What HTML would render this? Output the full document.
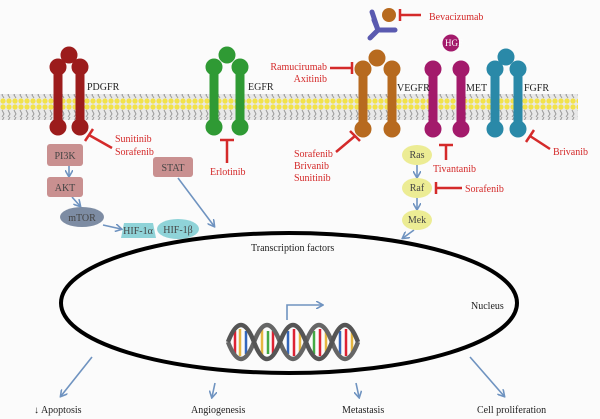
<!DOCTYPE html>
<html><head><meta charset="utf-8"><style>
html,body{margin:0;padding:0;background:#fbfbfb;}
svg{display:block;font-family:"Liberation Serif",serif;}
</style></head><body>
<svg width="600" height="419" viewBox="0 0 600 419" xmlns="http://www.w3.org/2000/svg">
<defs>
<pattern id="lip" width="6" height="26" patternUnits="userSpaceOnUse">
<rect width="6" height="26" fill="#e8e8e8"/>
<circle cx="3" cy="3" r="2.6" fill="#f2e24a"/>
<circle cx="3" cy="23" r="2.6" fill="#f2e24a"/>
<path d="M2 6 L4 10 L2 13 M4 13 L2 17 L4 20" stroke="#9a9a9a" stroke-width="1" fill="none"/>
</pattern>
<marker id="ar" markerWidth="8" markerHeight="8" refX="6" refY="4" orient="auto" markerUnits="userSpaceOnUse"><path d="M0 0 L7 4 L0 8" fill="none" stroke="#6f93c0" stroke-width="1.6"/></marker>
</defs>
<rect x="0" y="94" width="578" height="26" fill="url(#lip)"/>

<g stroke-linecap="round">
<g fill="#9c1c1c" stroke="#9c1c1c">
<line x1="58" y1="67" x2="58" y2="127" stroke-width="9"/><line x1="80" y1="67" x2="80" y2="127" stroke-width="9"/>
<circle cx="58" cy="67" r="8"/><circle cx="80" cy="67" r="8"/><circle cx="69" cy="55" r="8"/><circle cx="58" cy="127" r="8"/><circle cx="80" cy="127" r="8"/></g>
<g fill="#2f9a34" stroke="#2f9a34">
<line x1="214" y1="67" x2="214" y2="127" stroke-width="9"/><line x1="240" y1="67" x2="240" y2="127" stroke-width="9"/>
<circle cx="214" cy="67" r="8"/><circle cx="240" cy="67" r="8"/><circle cx="227" cy="55" r="8"/><circle cx="214" cy="127" r="8"/><circle cx="240" cy="127" r="8"/></g>
<g fill="#b76a1f" stroke="#b76a1f">
<line x1="363" y1="69" x2="363" y2="129" stroke-width="9"/><line x1="392" y1="69" x2="392" y2="129" stroke-width="9"/>
<circle cx="363" cy="69" r="8"/><circle cx="392" cy="69" r="8"/><circle cx="377" cy="58" r="8"/><circle cx="363" cy="129" r="8"/><circle cx="392" cy="129" r="8"/></g>
<g fill="#a31a6b" stroke="#a31a6b">
<line x1="433" y1="69" x2="433" y2="129" stroke-width="9"/><line x1="461" y1="69" x2="461" y2="129" stroke-width="9"/>
<circle cx="433" cy="69" r="8"/><circle cx="461" cy="69" r="8"/><circle cx="433" cy="129" r="8"/><circle cx="461" cy="129" r="8"/>
<circle cx="451" cy="43" r="8"/></g>
<g fill="#2a89a8" stroke="#2a89a8">
<line x1="495" y1="69" x2="495" y2="129" stroke-width="9"/><line x1="518" y1="69" x2="518" y2="129" stroke-width="9"/>
<circle cx="495" cy="69" r="8"/><circle cx="518" cy="69" r="8"/><circle cx="506" cy="57" r="8"/><circle cx="495" cy="129" r="8"/><circle cx="518" cy="129" r="8"/></g>
</g>
<text x="445" y="46" font-size="9" fill="#fff">HGF</text>
<g stroke="#5a5ab0" stroke-width="5" fill="none" stroke-linecap="round">
<path d="M374 20 L378 30 L370 38 M378 30 L395 30"/><path d="M372 12 L378 30"/>
</g>
<circle cx="389" cy="15" r="7" fill="#b76a1f"/>

<g font-size="10" fill="#222">
<text x="87" y="90">PDGFR</text><text x="248" y="90">EGFR</text><text x="397" y="91">VEGFR</text><text x="466" y="91">MET</text><text x="524" y="91">FGFR</text>
</g>

<g stroke="#d42a2a" stroke-width="2.5" fill="none">
<path d="M400 15 L421 15 M400 9 L400 21"/>
<path d="M330 68 L352 68 M352 62 L352 74"/>
<path d="M112 148 L89 135 M85 141 L93 129"/>
<path d="M227 140 L227 163 M220 140 L234 140"/>
<path d="M336 152 L355 136 M350 131 L360 141"/>
<path d="M446 145 L446 160 M439 145 L453 145"/>
<path d="M436 188 L462 188 M436 182 L436 194"/>
<path d="M550 149 L530 136 M526 142 L534 130"/>
</g>
<g font-size="10" fill="#d42a2a">
<text x="429" y="20">Bevacizumab</text>
<text x="327" y="70" text-anchor="end">Ramucirumab</text><text x="327" y="82" text-anchor="end">Axitinib</text>
<text x="115" y="142">Sunitinib</text><text x="115" y="155">Sorafenib</text>
<text x="210" y="175">Erlotinib</text>
<text x="294" y="157">Sorafenib</text><text x="294" y="169">Brivanib</text><text x="294" y="181">Sunitinib</text>
<text x="433" y="172">Tivantanib</text>
<text x="465" y="192">Sorafenib</text>
<text x="553" y="155">Brivanib</text>
</g>

<g stroke="#6f93c0" stroke-width="1.6" fill="none">
<line x1="69" y1="166" x2="69" y2="176" marker-end="url(#ar)"/>
<line x1="72" y1="197" x2="80" y2="206" marker-end="url(#ar)"/>
<line x1="103" y1="225" x2="121" y2="229" marker-end="url(#ar)"/>
<line x1="178" y1="178" x2="214" y2="226" marker-end="url(#ar)"/>
<line x1="417" y1="165" x2="417" y2="177" marker-end="url(#ar)"/>
<line x1="417" y1="198" x2="417" y2="209" marker-end="url(#ar)"/>
<line x1="414" y1="230" x2="403" y2="238" marker-end="url(#ar)"/>
<line x1="92" y1="357" x2="61" y2="396" marker-end="url(#ar)"/>
<line x1="215" y1="383" x2="212" y2="397" marker-end="url(#ar)"/>
<line x1="356" y1="383" x2="359" y2="397" marker-end="url(#ar)"/>
<line x1="470" y1="357" x2="504" y2="396" marker-end="url(#ar)"/>
<path d="M287 320 L287 305 L322 305" marker-end="url(#ar)"/>
</g>
<rect x="47" y="144" width="36" height="22" rx="3" fill="#c99090"/>
<rect x="47" y="177" width="36" height="20" rx="3" fill="#c99090"/>
<rect x="153" y="157" width="40" height="20" rx="3" fill="#c99090"/>
<ellipse cx="82" cy="217" rx="22" ry="10" fill="#7d8ca3"/>
<path d="M124 223 L153 223 L156 238 L121 238 Z" fill="#8fd3d8"/>
<ellipse cx="178" cy="229" rx="21" ry="10" fill="#8fd3d8"/>
<ellipse cx="417" cy="155" rx="15" ry="10" fill="#ecec94"/>
<ellipse cx="417" cy="188" rx="15" ry="10" fill="#ecec94"/>
<ellipse cx="417" cy="220" rx="15" ry="10" fill="#ecec94"/>
<g font-size="10" fill="#444" text-anchor="middle">
<text x="65" y="159">PI3K</text><text x="65" y="191">AKT</text><text x="173" y="171">STAT</text>
<text x="82" y="221">mTOR</text><text x="138" y="234">HIF-1α</text><text x="178" y="233">HIF-1β</text>
<text x="417" y="158">Ras</text><text x="417" y="191">Raf</text><text x="417" y="223">Mek</text>
</g>

<ellipse cx="289" cy="303" rx="228" ry="70" fill="none" stroke="#000" stroke-width="4"/>
<g stroke-width="2.5">
<line x1="235" y1="331" x2="235" y2="354" stroke="#d23"/><line x1="240" y1="329" x2="240" y2="356" stroke="#e6b640"/>
<line x1="246" y1="331" x2="246" y2="354" stroke="#36b"/><line x1="262" y1="329" x2="262" y2="356" stroke="#e6b640"/>
<line x1="268" y1="331" x2="268" y2="354" stroke="#4a4"/><line x1="273" y1="331" x2="273" y2="354" stroke="#d23"/>
<line x1="288" y1="331" x2="288" y2="354" stroke="#36b"/><line x1="294" y1="329" x2="294" y2="356" stroke="#d23"/>
<line x1="300" y1="331" x2="300" y2="354" stroke="#e6b640"/><line x1="314" y1="331" x2="314" y2="354" stroke="#4a4"/>
<line x1="320" y1="329" x2="320" y2="356" stroke="#d23"/><line x1="326" y1="331" x2="326" y2="354" stroke="#e6b640"/>
<line x1="340" y1="331" x2="340" y2="354" stroke="#36b"/><line x1="346" y1="329" x2="346" y2="356" stroke="#d23"/>
<line x1="352" y1="331" x2="352" y2="354" stroke="#e6b640"/>
</g>
<g fill="none" stroke-width="4.5">
<path d="M228 342 Q241 376 254 342 T280 342 T306 342 T332 342 T358 342" stroke="#666"/>
<path d="M228 342 Q241 308 254 342 T280 342 T306 342 T332 342 T358 342" stroke="#555"/>
</g>
<g font-size="10" fill="#222">
<text x="251" y="251">Transcription factors</text>
<text x="471" y="309">Nucleus</text>
<text x="34" y="413">↓ Apoptosis</text>
<text x="191" y="413">Angiogenesis</text>
<text x="342" y="413">Metastasis</text>
<text x="477" y="413">Cell proliferation</text>
</g>
</svg>
</body></html>
